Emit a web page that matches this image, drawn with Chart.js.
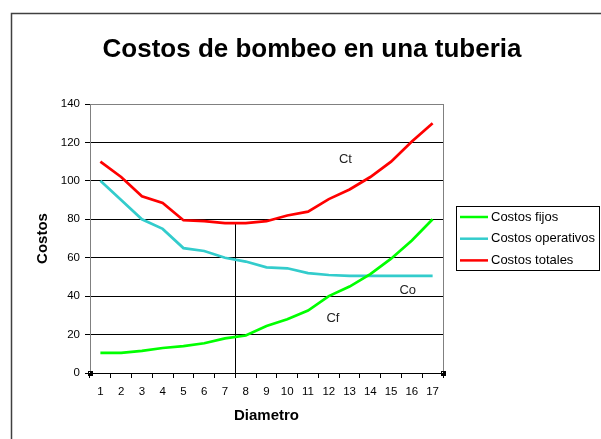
<html><head>
<title>Costos de bombeo en una tuberia</title>
<script src="https://cdn.jsdelivr.net/npm/chart.js"></script>
<style>
  body {
    margin: 0;
    background-color: white;
  }
  #chart {
    display: block;
  }
</style>
</head>
<body>
<canvas id="chart" width="601" height="439"></canvas>

<script>
// diameters 1..17
const diametros = ['1', '2', '3', '4', '5', '6', '7', '8', '9', '10', '11', '12', '13', '14', '15', '16', '17'];
const costosFijos = [10.5, 10.5, 11.5, 13, 14, 15.5, 18, 19.5, 24.5, 28, 32.5, 40, 45, 51.5, 59.5, 69, 80];
const costosOperativos = [100, 90, 80, 75, 65, 63.5, 60, 58, 55, 54.5, 52, 51, 50.5, 50.5, 50.5, 50.5, 50.5];
const costosTotales = [110, 102, 92, 88.5, 79.5, 79, 78, 78, 79, 82, 84, 90.5, 95.5, 102, 110, 120.5, 130];
const yTicks = [0, 20, 40, 60, 80, 100, 120, 140];

const titulo = 'Costos de bombeo en una tuberia';
const FONT = '"Liberation Sans", Arial, sans-serif';

// optimum diameter marker sits between 7 and 8
const optimoIndex = 6.5;

const decor = {
  id: 'decor',
  beforeDatasetsDraw(chart) {
    const ctx = chart.ctx;
    const x = chart.scales.x;
    const y = chart.scales.y;
    const px = Math.round(x.getPixelForValue(optimoIndex)) + 0.5;
    const top = y.getPixelForValue((costosTotales[6] + costosTotales[7]) / 2);
    ctx.save();
    ctx.strokeStyle = '#000';
    ctx.lineWidth = 1;
    ctx.beginPath();
    ctx.moveTo(px, top);
    ctx.lineTo(px, y.getPixelForValue(0));
    ctx.stroke();
    ctx.restore();
  },
  afterDraw(chart) {
    const ctx = chart.ctx;
    const area = chart.chartArea;
    const x = chart.scales.x;
    const y = chart.scales.y;
    const opts = chart.options.plugins.decor;
    ctx.save();

    // outer chart frame (runs off the picture)
    ctx.strokeStyle = '#404040';
    ctx.lineWidth = 1.5;
    ctx.beginPath();
    ctx.moveTo(11.5, chart.height);
    ctx.lineTo(11.5, 13.5);
    ctx.lineTo(chart.width, 13.5);
    ctx.stroke();

    // title, centred on the outer frame
    ctx.fillStyle = '#000';
    ctx.font = 'bold 26px ' + FONT;
    ctx.textAlign = 'center';
    ctx.textBaseline = 'middle';
    ctx.fillText(titulo, opts.titleX, opts.titleY);

    // plot area right edge
    ctx.strokeStyle = '#808080';
    ctx.lineWidth = 1;
    ctx.beginPath();
    ctx.moveTo(Math.round(area.right) + 0.5, area.top);
    ctx.lineTo(Math.round(area.right) + 0.5, area.bottom);
    ctx.stroke();

    // selection handles on the x axis ends
    ctx.fillStyle = '#000';
    [area.left, area.right].forEach(hx => {
      ctx.fillRect(Math.round(hx) - 2, Math.round(area.bottom) - 2, 5, 5);
    });
    ctx.fillStyle = '#fff';
    [area.left, area.right].forEach(hx => {
      ctx.fillRect(Math.round(hx) - 1, Math.round(area.bottom) - 1, 1, 1);
    });

    // curve labels
    ctx.fillStyle = '#222';
    ctx.font = '13px ' + FONT;
    opts.labels.forEach(l => {
      ctx.fillText(l.text, x.getPixelForValue(l.x), y.getPixelForValue(l.y));
    });

    // legend box
    const lg = opts.legend;
    ctx.strokeStyle = '#000';
    ctx.lineWidth = 1;
    ctx.strokeRect(lg.left + 0.5, lg.top + 0.5, lg.width, lg.height);
    ctx.textAlign = 'left';
    ctx.fillStyle = '#000';
    chart.data.datasets.forEach((ds, i) => {
      const ry = lg.top + 11 + i * 21.7;
      ctx.strokeStyle = ds.borderColor;
      ctx.lineWidth = 2.5;
      ctx.beginPath();
      ctx.moveTo(lg.left + 4, ry);
      ctx.lineTo(lg.left + 32, ry);
      ctx.stroke();
      ctx.fillText(ds.label, lg.left + 35, ry);
    });
    ctx.restore();
  }
};

new Chart(document.getElementById('chart'), {
  type: 'line',
  data: {
    labels: diametros,
    datasets: [{
      label: 'Costos fijos',
      data: costosFijos,
      borderColor: '#00ff00',
      borderWidth: 2.7,
      pointRadius: 0,
      tension: 0
    }, {
      label: 'Costos operativos',
      data: costosOperativos,
      borderColor: '#33cccc',
      borderWidth: 2.7,
      pointRadius: 0,
      tension: 0
    }, {
      label: 'Costos totales',
      data: costosTotales,
      borderColor: '#ff0000',
      borderWidth: 2.7,
      pointRadius: 0,
      tension: 0
    }]
  },
  options: {
    responsive: false,
    devicePixelRatio: 1,
    animation: false,
    layout: {
      padding: {left: 0, right: 158, top: 104, bottom: 0}
    },
    plugins: {
      legend: {display: false},
      tooltip: {enabled: false},
      title: {display: false},
      decor: {
        titleX: 312,
        titleY: 50,
        labels: [
          {text: 'Ct', x: 11.8, y: 111},
          {text: 'Co', x: 14.8, y: 43},
          {text: 'Cf', x: 11.2, y: 28.5}
        ],
        legend: {left: 456, top: 206, width: 143, height: 64}
      }
    },
    scales: {
      x: {
        offset: true,
        afterFit(scale) { scale.height = 66; },
        grid: {
          offset: true,
          drawOnChartArea: false,
          drawTicks: true,
          tickLength: 5,
          color: '#000'
        },
        border: {display: true, color: '#000'},
        ticks: {
          color: '#000',
          padding: 7,
          maxRotation: 0,
          autoSkip: false,
          font: {family: FONT, size: 11.5}
        },
        title: {
          display: true,
          text: 'Diametro',
          color: '#000',
          font: {family: FONT, size: 15, weight: 'bold', lineHeight: 1.2},
          padding: {top: 0, bottom: 14}
        }
      },
      y: {
        min: 0,
        max: 140,
        afterFit(scale) { scale.width = 90; },
        afterBuildTicks(scale) { scale.ticks = yTicks.map(v => ({value: v})); },
        grid: {
          color: ctx => ctx.tick && ctx.tick.value === 140 ? '#808080' : '#000',
          tickColor: '#000',
          tickLength: 5,
          lineWidth: 1
        },
        border: {display: true, color: '#808080'},
        ticks: {
          color: '#000',
          padding: 5,
          font: {family: FONT, size: 11.5}
        },
        title: {
          display: true,
          text: 'Costos',
          color: '#000',
          font: {family: FONT, size: 15, weight: 'bold', lineHeight: 1.2},
          padding: {top: 34, bottom: 0}
        }
      }
    }
  },
  plugins: [decor]
});
</script>
</body></html>
